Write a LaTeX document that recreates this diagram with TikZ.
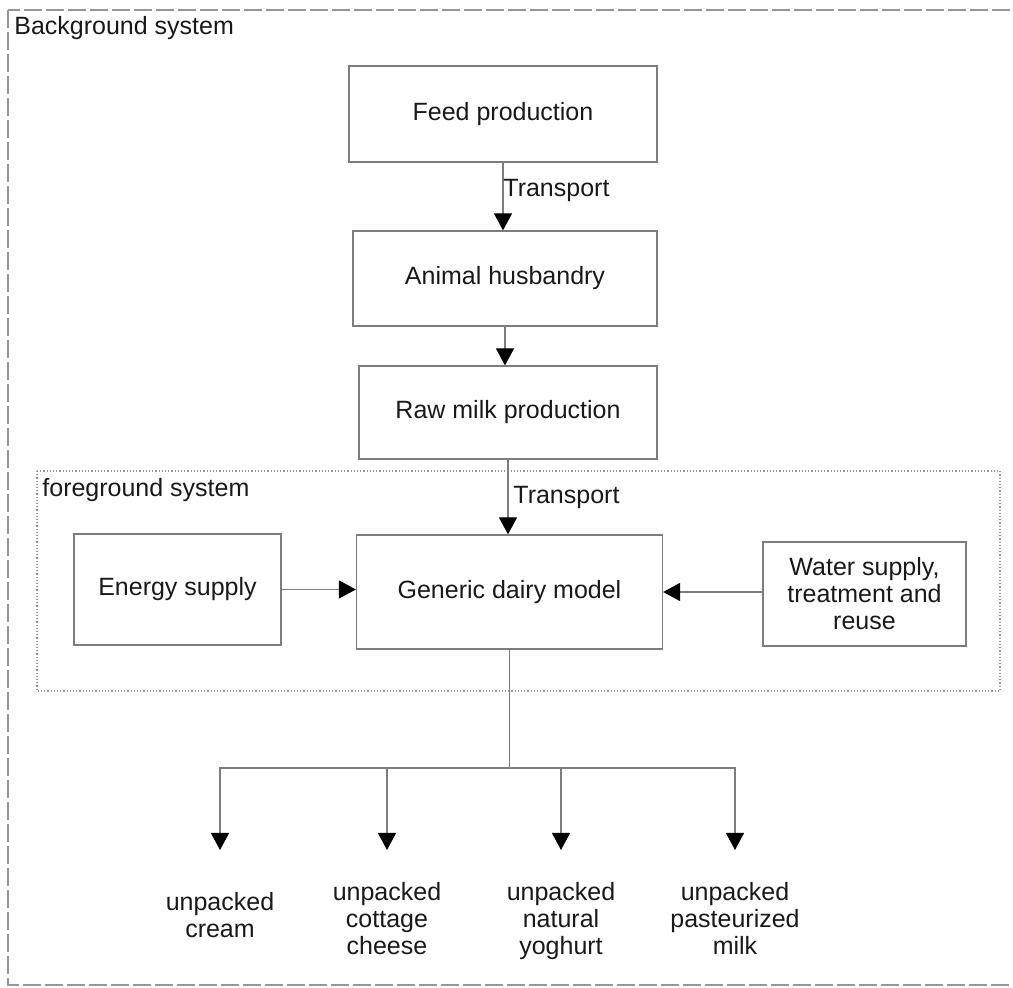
\documentclass[tikz,border=0pt]{standalone}
\usepackage{fontspec}
\setmainfont{Liberation Sans}
\definecolor{boxgray}{RGB}{125,125,125}
\definecolor{framegray}{RGB}{150,150,150}
\usetikzlibrary{arrows.meta, positioning}

\begin{document}
\begin{tikzpicture}[
    x=0.5pt, y=-0.5pt,
    every node/.style={font=\fontsize{12.5}{13.5}\selectfont, text=black!90},
    procbox/.style={draw=boxgray, line width=0.6pt, align=center, inner sep=3pt},
    flow/.style={-{Triangle[length=8.5pt, width=9pt, color=black]}, boxgray, line width=0.6pt},
    link/.style={boxgray, line width=0.6pt},
    product/.style={anchor=north, align=center, inner xsep=0pt, inner ysep=16pt},
    syslabel/.style={anchor=west, inner sep=0pt},
  ]
  \useasboundingbox (0,0) rectangle (1013,988);
  % system borders
  \draw[framegray, line width=0.6pt, dash pattern=on 9pt off 2pt] (8,10) rectangle (1030,985);
  \draw[framegray, line width=0.6pt, densely dotted] (37,471) rectangle (1000,691);
  \node[syslabel] (bglabel) at (14,28) {Background system};
  \node[syslabel] (fglabel) at (42,490) {foreground system};

  % background chain
  \node[procbox, minimum width=154pt, minimum height=48pt] (feed) at (503,114) {Feed production};
  \node[procbox, minimum width=152pt, minimum height=47.5pt] (husb) at (505,278.5) {Animal husbandry};
  \node[procbox, minimum width=149pt, minimum height=46.5pt] (rawmilk) at (508,412.5) {Raw milk production};

  % foreground
  \node[procbox, minimum width=153pt, minimum height=57pt] (dairy) at (509.5,592) {Generic dairy model};
  \node[procbox, minimum width=103.5pt, minimum height=55.5pt] (energy) at (177.5,589.5) {Energy supply};
  \node[procbox, minimum width=101.5pt, minimum height=52pt] (water) at (864.5,594) {Water supply,\\treatment and\\reuse};

  \draw[flow] (feed.south) -- (feed.south |- husb.north);
  \node[syslabel, inner xsep=0pt] (trans1) at (503,191) {Transport};
  \draw[flow] (husb.south) -- (husb.south |- rawmilk.north);
  \draw[flow] (rawmilk.south) -- (rawmilk.south |- dairy.north);
  \node[syslabel] (trans2) at (513,497) {Transport};
  \draw[flow] (energy.east) -- (energy.east -| dairy.west);
  \draw[flow] (water.west |- dairy.east) -- (dairy.east);

  % products
  \node[product, inner ysep=21pt] (cream) at (220,850) {unpacked\\cream};
  \node[product] (cottage) at (387,850) {unpacked\\cottage\\cheese};
  \node[product] (yoghurt) at (561,850) {unpacked\\natural\\yoghurt};
  \node[product] (pastmilk) at (735,850) {unpacked\\pasteurized\\milk};

  \coordinate (split) at (509.5,768);
  \draw[link] (dairy.south) -- (split);
  \draw[flow] (split) -| (cream.north);
  \draw[flow] (split) -| (cottage.north);
  \draw[flow] (split) -| (yoghurt.north);
  \draw[flow] (split) -| (pastmilk.north);
\end{tikzpicture}
\end{document}
